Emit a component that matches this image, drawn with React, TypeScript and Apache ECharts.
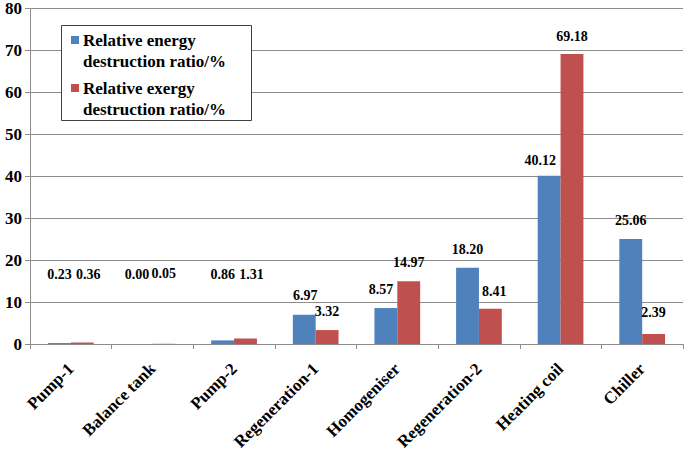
import React, { useEffect, useRef } from "react";
import * as echarts from "echarts";

const categories = ["Pump-1", "Balance tank", "Pump-2", "Regeneration-1", "Homogeniser", "Regeneration-2", "Heating coil", "Chiller"];
const energyValues = [0.23, 0.0, 0.86, 6.97, 8.57, 18.2, 40.12, 25.06];
const exergyValues = [0.36, 0.05, 1.31, 3.32, 14.97, 8.41, 69.18, 2.39];
const energyName = "Relative energy\ndestruction ratio/%";
const exergyName = "Relative exergy\ndestruction ratio/%";
const yTicks = { min: 0, max: 80, interval: 10 };

// label placement tweaks (dx, dy) as in the reference
const energyLabelOffsets = [[0, -57], [-4, -58], [0, -54], [1, -7], [-5, -7], [0, -6], [-9, -3], [0, -6]];
const exergyLabelOffsets = [[6, -56], [0, -58], [6, -52], [0, -7], [0, -7], [4, -5], [0, -5], [0, -9]];

const BLUE = "#4F81BD";
const RED = "#C0504D";
const FONT = "Liberation Serif";

export default function App() {
  const ref = useRef<HTMLDivElement>(null);
  useEffect(() => {
    if (!ref.current) return;
    const chart = echarts.init(ref.current, null, { renderer: "svg" });
    const mk = (vals: number[], offs: number[][]) =>
      vals.map((v, i) => ({ value: v, label: { offset: offs[i] } }));
    const labelStyle = {
      show: true,
      position: "top",
      distance: 5,
      fontFamily: FONT,
      fontWeight: "bold",
      fontSize: 14,
      color: "#000",
      formatter: (p: any) => Number(p.value).toFixed(2),
    };
    chart.setOption({
      animation: false,
      textStyle: { fontFamily: FONT },
      grid: { left: 30, right: 2, top: 8, bottom: 109, containLabel: false },
      xAxis: {
        type: "category",
        data: categories,
        axisLine: { lineStyle: { color: "#8c8c8c", width: 1 } },
        axisTick: { show: true, length: 5, lineStyle: { color: "#8c8c8c" } },
        axisLabel: {
          interval: 0,
          rotate: 45,
          margin: 22,
          fontFamily: FONT,
          fontWeight: "bold",
          fontSize: 17,
          color: "#000",
        },
      },
      yAxis: {
        type: "value",
        min: yTicks.min,
        max: yTicks.max,
        interval: yTicks.interval,
        axisLine: { show: true, lineStyle: { color: "#8c8c8c", width: 1 } },
        axisTick: { show: true, length: 5, lineStyle: { color: "#8c8c8c" } },
        splitLine: { show: true, lineStyle: { color: "#8c8c8c", width: 1 } },
        axisLabel: {
          margin: 8,
          fontFamily: FONT,
          fontWeight: "bold",
          fontSize: 17,
          color: "#000",
        },
      },
      series: [
        {
          name: energyName,
          type: "bar",
          data: mk(energyValues, energyLabelOffsets),
          itemStyle: { color: BLUE },
          barGap: "0%",
          barCategoryGap: "44%",
          label: labelStyle,
        },
        {
          name: exergyName,
          type: "bar",
          data: mk(exergyValues, exergyLabelOffsets),
          itemStyle: { color: RED },
          barGap: "0%",
          barCategoryGap: "44%",
          label: labelStyle,
        },
      ],
      graphic: [
        {
          type: "rect",
          shape: { x: 61.5, y: 25.5, width: 190, height: 95 },
          style: { fill: "#fff", stroke: "#404040", lineWidth: 1 },
          z: 100,
        },
        {
          type: "rect",
          shape: { x: 71, y: 36, width: 8, height: 8 },
          style: { fill: BLUE },
          z: 101,
        },
        {
          type: "text",
          x: 83,
          y: 29.5,
          style: {
            text: energyName,
            fontFamily: FONT,
            fontWeight: "bold",
            fontSize: 17,
            lineHeight: 21,
            fill: "#000",
            verticalAlign: "top",
          },
          z: 101,
        },
        {
          type: "rect",
          shape: { x: 71, y: 84, width: 8, height: 8 },
          style: { fill: RED },
          z: 101,
        },
        {
          type: "text",
          x: 83,
          y: 77.5,
          style: {
            text: exergyName,
            fontFamily: FONT,
            fontWeight: "bold",
            fontSize: 17,
            lineHeight: 21,
            fill: "#000",
            verticalAlign: "top",
          },
          z: 101,
        },
      ],
    });
    return () => chart.dispose();
  }, []);
  return (
    <div
      ref={ref}
      style={{ position: "fixed", left: 0, top: 0, width: 685, height: 453, background: "#fff" }}
    />
  );
}
